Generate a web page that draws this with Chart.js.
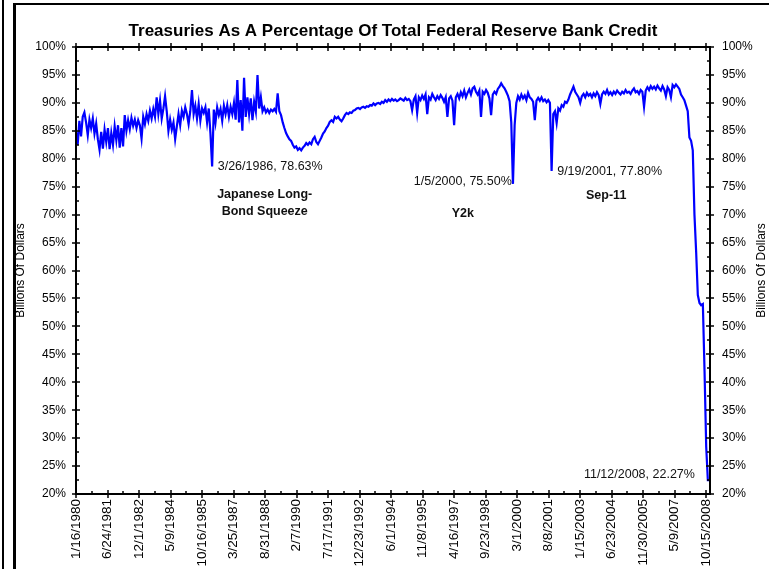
<!DOCTYPE html>
<html>
<head>
<meta charset="utf-8">
<script src="https://cdn.jsdelivr.net/npm/chart.js@4.4.1/dist/chart.umd.min.js"></script>
<style>
  html, body { margin: 0; padding: 0; background: #fff; overflow: hidden; }
  #wrap { position: relative; width: 769px; height: 569px; }
  #chart { position: absolute; left: 0; top: 0; }
  .edge { position: absolute; background: #000; }
</style>
</head>
<body>
<div id="wrap">
  <canvas id="chart" width="769" height="569"></canvas>
  <div class="edge" style="left:2px;top:0;width:2px;height:569px"></div>
  <div class="edge" style="left:13px;top:3px;width:3px;height:566px"></div>
  <div class="edge" style="left:13px;top:3px;width:756px;height:2px"></div>
</div>
<script>
// weekly series, every 4th week starting 1/16/1980
const START_DATE = '1/16/1980';
const STEP_WEEKS = 4;

const tickLabels = [
  '1/16/1980', '6/24/1981', '12/1/1982', '5/9/1984', '10/16/1985', '3/25/1987',
  '8/31/1988', '2/7/1990', '7/17/1991', '12/23/1992', '6/1/1994', '11/8/1995',
  '4/16/1997', '9/23/1998', '3/1/2000', '8/8/2001', '1/15/2003', '6/23/2004',
  '11/30/2005', '5/9/2007', '10/15/2008'
];

const treasuryShare = [
  85.0, 82.5, 86.8, 84.0, 87.5, 88.3, 86.5, 84.2, 87.0, 85.5,
  87.2, 84.5, 86.3, 83.5, 81.6, 84.8, 81.8, 85.2, 83.0, 85.5,
  81.7, 84.6, 82.5, 85.8, 83.3, 86.0, 82.0, 85.5, 82.2, 87.8,
  85.0, 86.9, 85.3, 87.3, 85.9, 87.0, 85.5, 86.9, 86.0, 83.6,
  87.5, 86.2, 88.0, 86.8, 88.6, 87.2, 88.9, 87.5, 91.0, 88.0,
  90.4, 87.2, 89.0, 91.2, 88.5, 85.0, 87.0, 85.2, 86.5, 83.5,
  85.8, 88.0, 86.0, 88.6, 87.5, 89.2, 88.0, 86.2, 88.5, 92.3,
  88.0, 89.5, 87.2, 89.8, 86.8, 89.0, 88.2, 89.2, 86.5, 89.0,
  84.5, 78.63, 88.8, 86.5, 89.2, 87.8, 88.9, 86.8, 89.5, 88.0,
  89.6, 87.5, 89.3, 88.0, 90.0, 87.0, 94.1, 86.5, 90.5, 85.0,
  94.5, 87.5, 91.0, 88.0, 90.8, 86.9, 90.2, 88.5, 95.0, 89.0,
  91.0, 88.5, 89.2, 88.3, 88.8, 88.2, 88.8, 88.5, 88.9, 88.4,
  91.7, 88.5, 87.8, 86.5, 85.5, 84.6, 84.0, 83.5, 83.2, 82.5,
  82.0, 82.2, 81.6, 81.9, 81.5, 82.0, 82.3, 82.8, 82.5, 82.9,
  82.6, 83.5, 83.9, 83.0, 82.6, 83.2, 83.8, 84.5, 84.9, 85.5,
  85.9, 86.6, 86.9, 86.6, 87.5, 87.2, 87.5, 87.0, 86.7, 87.2,
  87.8, 88.2, 88.0, 88.3, 88.2, 88.6, 88.7, 89.0, 89.1, 88.9,
  89.2, 89.3, 89.1, 89.4, 89.3, 89.6, 89.5, 89.9, 89.6, 89.9,
  90.0, 89.8, 90.2, 90.0, 90.5, 90.2, 90.6, 90.3, 90.7, 90.4,
  90.6, 90.3, 90.5, 90.8, 90.6, 90.4, 90.9, 90.5, 90.7, 90.3,
  88.7, 90.6, 91.2, 88.2, 91.0, 90.5, 91.3, 90.7, 91.5, 88.0,
  91.0, 90.6, 91.6, 91.0, 90.5, 91.2, 90.7, 91.4, 90.9, 90.2,
  91.0, 87.5, 90.8, 91.2, 90.4, 86.0, 91.0, 91.6, 90.8, 91.9,
  91.2, 92.2, 91.0, 91.8, 92.4, 91.5, 92.6, 92.9, 92.0, 91.5,
  92.2, 87.5, 92.0, 91.6, 92.3, 91.8, 90.8, 87.8, 91.5, 92.0,
  91.6, 92.5, 92.9, 93.5, 93.0, 92.6, 92.0, 91.3, 90.3, 86.5,
  75.5, 86.0, 90.0, 91.2, 90.6, 91.5, 90.8, 91.3, 90.5, 91.8,
  91.0, 90.7, 90.2, 86.9, 90.4, 90.9, 90.4, 91.0, 90.3, 90.6,
  90.1, 90.5, 90.0, 77.8, 88.0, 88.5, 86.4, 89.0, 88.6, 89.6,
  89.3, 90.2, 90.0, 90.6, 91.5, 92.2, 92.9, 92.0, 91.5, 91.0,
  90.0, 91.2, 91.6, 91.0, 91.8, 91.3, 91.6, 91.0, 91.7, 91.2,
  91.9, 91.4, 89.8, 91.5, 92.0, 91.6, 92.3, 91.5, 91.9, 91.4,
  92.0, 91.6, 92.2, 91.8, 91.5, 92.0, 91.7, 92.3, 91.8, 92.0,
  91.6, 92.2, 92.6, 91.9, 92.1, 91.6, 92.3, 92.0, 89.3, 92.2,
  92.8, 92.3, 93.0, 92.5, 92.9, 92.4, 93.1, 92.6, 92.2, 93.0,
  92.4, 91.2, 92.8, 92.3, 91.0, 93.2, 92.8, 93.3, 92.9, 92.5,
  91.5, 91.0, 90.5, 89.5, 88.5, 83.8, 83.2, 81.5, 70.0, 63.4,
  55.6, 54.2, 53.8, 54.0, 42.0, 28.4, 22.27
];

// annotated weeks
const eventDates = ['3/26/1986', '1/5/2000', '9/19/2001', '11/12/2008'];
const eventValues = [78.63, 75.50, 77.80, 22.27];
const eventNames = [['Japanese Long-', 'Bond Squeeze'], ['Y2k'], ['Sep-11'], []];

const FONT = '"Liberation Sans", Arial, sans-serif';

function toUTC(s) {
  const [m, d, y] = s.split('/').map(Number);
  return Date.UTC(y, m - 1, d);
}
function weeksFrom(s) {
  return Math.round((toUTC(s) - toUTC(START_DATE)) / (7 * 86400000));
}

const points = treasuryShare.map((v, i) => ({ x: i * STEP_WEEKS, y: v }));

// frame with Excel-like crossing tick marks
const axisMarks = {
  id: 'axisMarks',
  afterDraw(chart) {
    const { ctx, chartArea: a, scales: { x, y } } = chart;
    ctx.save();
    ctx.strokeStyle = '#000';
    ctx.lineWidth = 2;
    const seg = (x1, y1, x2, y2) => {
      ctx.beginPath(); ctx.moveTo(x1, y1); ctx.lineTo(x2, y2); ctx.stroke();
    };
    ctx.strokeRect(a.left, a.top, a.right - a.left, a.bottom - a.top);
    ctx.lineWidth = 1.5;
    y.ticks.forEach(t => {
      const py = Math.round(y.getPixelForValue(t.value));
      seg(a.left - 4, py, a.left + 4, py);
      seg(a.right - 4, py, a.right + 4, py);
      if (t.value < y.max) {
        const my = Math.round(y.getPixelForValue(t.value + 2.5));
        seg(a.left, my, a.left + 3, my);
        seg(a.right - 3, my, a.right, my);
      }
    });
    const vals = x.ticks.map(t => t.value);
    vals.forEach((v, i) => {
      const px = Math.round(x.getPixelForValue(v));
      seg(px, a.bottom - 4, px, a.bottom + 4);
      seg(px, a.top - 4, px, a.top + 4);
      if (i < vals.length - 1) {
        const mx = Math.round(x.getPixelForValue((v + vals[i + 1]) / 2));
        seg(mx, a.bottom - 3, mx, a.bottom);
        seg(mx, a.top, mx, a.top + 3);
      }
    });
    ctx.restore();
  }
};

// event captions and axis titles
const notes = {
  id: 'notes',
  afterDraw(chart) {
    const { ctx, chartArea: a, scales: { x, y } } = chart;
    ctx.save();
    ctx.fillStyle = '#111';
    ctx.textBaseline = 'middle';
    const place = [
      { dx: 6, dy: 0, align: 'left', nx: 53, ny: [28, 45] },
      { dx: -2, dy: -2, align: 'right', nx: -51, ny: [30] },
      { dx: 6, dy: 1, align: 'left', nx: 55, ny: [25] },
      { dx: -13, dy: -7, align: 'right', nx: 0, ny: [] }
    ];
    eventDates.forEach((d, i) => {
      const px = x.getPixelForValue(weeksFrom(d));
      const py = y.getPixelForValue(eventValues[i]);
      const p = place[i];
      ctx.font = '12.5px ' + FONT;
      ctx.textAlign = p.align;
      ctx.fillText(d + ', ' + eventValues[i].toFixed(2) + '%', px + p.dx, py + p.dy);
      ctx.font = 'bold 12.5px ' + FONT;
      ctx.textAlign = 'center';
      eventNames[i].forEach((line, k) => ctx.fillText(line, px + p.nx, py + p.ny[k]));
    });
    ctx.font = '12px ' + FONT;
    ctx.fillStyle = '#000';
    const midY = (a.top + a.bottom) / 2;
    [21, 762].forEach(tx => {
      ctx.save();
      ctx.translate(tx, midY);
      ctx.rotate(-Math.PI / 2);
      ctx.textAlign = 'center';
      ctx.fillText('Billions Of Dollars', 0, 0);
      ctx.restore();
    });
    ctx.restore();
  }
};

const yTicks = {
  stepSize: 5,
  color: '#000',
  font: { family: FONT, size: 12 },
  callback: v => v + '%'
};

new Chart(document.getElementById('chart'), {
  type: 'line',
  data: {
    datasets: [{
      data: points,
      borderColor: '#0000ff',
      borderWidth: 2.2,
      pointRadius: 0,
      tension: 0,
      yAxisID: 'y'
    }]
  },
  options: {
    responsive: false,
    animation: false,
    events: [],
    layout: { padding: 0 },
    plugins: {
      legend: { display: false },
      tooltip: { enabled: false },
      title: {
        display: true,
        fullSize: false,
        text: 'Treasuries As A Percentage Of Total Federal Reserve Bank Credit',
        color: '#000',
        font: { family: FONT, size: 17, weight: 'bold', lineHeight: 1.2 },
        padding: { top: 21, bottom: 5.6 }
      }
    },
    scales: {
      x: {
        type: 'linear',
        min: 0,
        max: weeksFrom(tickLabels[tickLabels.length - 1]) + 9,
        grid: { display: false, drawTicks: false },
        border: { display: false },
        afterBuildTicks: s => { s.ticks = tickLabels.map(l => ({ value: weeksFrom(l) })); },
        afterFit: s => { s.height = 75; },
        ticks: {
          autoSkip: false,
          minRotation: 90,
          maxRotation: 90,
          padding: 5,
          color: '#000',
          font: { family: FONT, size: 13.5 },
          callback: (v, i) => tickLabels[i]
        }
      },
      y: {
        position: 'left',
        min: 20,
        max: 100,
        grid: { display: false, drawTicks: false },
        border: { display: false },
        afterFit: s => { s.width = 76; },
        ticks: Object.assign({ padding: 10 }, yTicks)
      },
      y2: {
        position: 'right',
        display: true,
        min: 20,
        max: 100,
        grid: { display: false, drawTicks: false },
        border: { display: false },
        afterFit: s => { s.width = 59; },
        ticks: Object.assign({ padding: 12 }, yTicks)
      }
    }
  },
  plugins: [axisMarks, notes]
});
</script>
</body>
</html>
